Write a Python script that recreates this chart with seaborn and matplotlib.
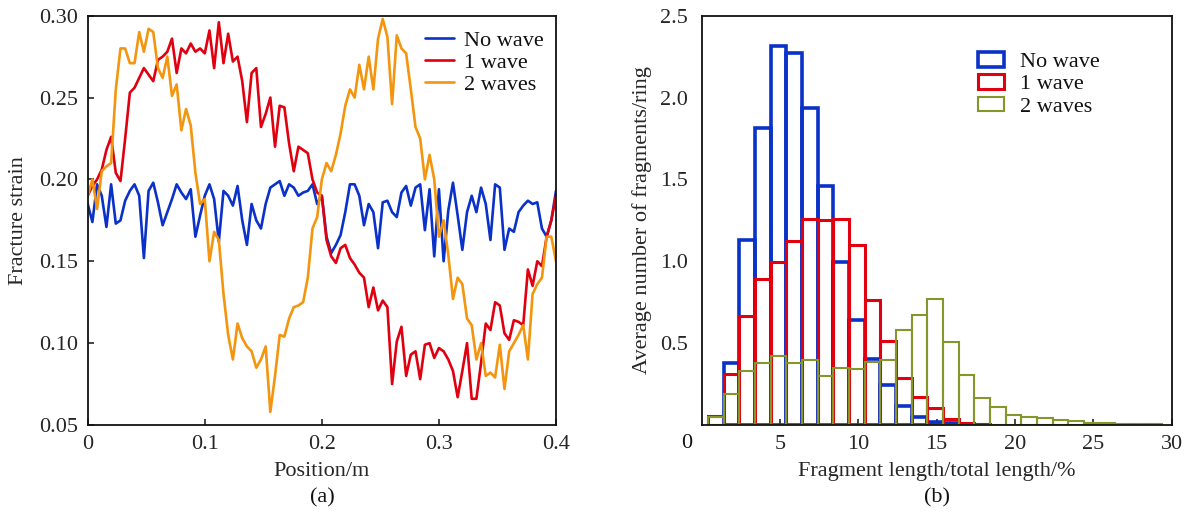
import numpy as np
import pandas as pd
import matplotlib
matplotlib.use("Agg")
import matplotlib.pyplot as plt
import seaborn as sns
from matplotlib.patches import Patch

# ----------------- Data (a): fracture strain along the ring -----------------
position = np.linspace(0.0, 0.4, 101)

strain_no_wave = [
    0.185, 0.174, 0.197, 0.190, 0.171, 0.197, 0.173, 0.175, 0.187, 0.193,
    0.197, 0.190, 0.152, 0.193, 0.198, 0.186, 0.172, 0.180, 0.188, 0.197,
    0.192, 0.188, 0.194, 0.165, 0.178, 0.190, 0.197, 0.188, 0.162, 0.193,
    0.190, 0.184, 0.196, 0.175, 0.160, 0.185, 0.175, 0.170, 0.185, 0.195,
    0.197, 0.199, 0.190, 0.197, 0.195, 0.190, 0.192, 0.193, 0.197, 0.185,
    0.190, 0.165, 0.155, 0.160, 0.166, 0.180, 0.197, 0.197, 0.190, 0.172,
    0.185, 0.180, 0.158, 0.186, 0.187, 0.180, 0.177, 0.192, 0.196, 0.184,
    0.195, 0.197, 0.169, 0.194, 0.153, 0.194, 0.150, 0.181, 0.198, 0.178,
    0.157, 0.180, 0.190, 0.180, 0.195, 0.185, 0.163, 0.197, 0.195, 0.157,
    0.170, 0.168, 0.180, 0.184, 0.187, 0.185, 0.186, 0.170, 0.165, 0.175,
    0.193,
]

strain_1_wave = [
    0.190, 0.196, 0.200, 0.206, 0.218, 0.226, 0.204, 0.199, 0.225, 0.253,
    0.256, 0.262, 0.268, 0.264, 0.260, 0.273, 0.275, 0.278, 0.286, 0.265,
    0.280, 0.277, 0.283, 0.278, 0.280, 0.277, 0.291, 0.268, 0.296, 0.271,
    0.289, 0.272, 0.275, 0.260, 0.235, 0.265, 0.268, 0.232, 0.240, 0.250,
    0.220, 0.245, 0.244, 0.222, 0.205, 0.220, 0.218, 0.216, 0.200, 0.192,
    0.190, 0.163, 0.153, 0.149, 0.158, 0.160, 0.152, 0.148, 0.143, 0.140,
    0.122, 0.134, 0.120, 0.126, 0.122, 0.075, 0.101, 0.110, 0.080, 0.093,
    0.095, 0.078, 0.099, 0.100, 0.091, 0.097, 0.095, 0.090, 0.083, 0.067,
    0.083, 0.100, 0.066, 0.066, 0.088, 0.112, 0.108, 0.125, 0.123, 0.106,
    0.102, 0.114, 0.113, 0.111, 0.145, 0.135, 0.150, 0.147, 0.165, 0.175,
    0.190,
]

strain_2_waves = [
    0.190, 0.200, 0.182, 0.205, 0.208, 0.210, 0.255, 0.280, 0.280, 0.271,
    0.271, 0.290, 0.278, 0.292, 0.290, 0.268, 0.262, 0.275, 0.251, 0.258,
    0.230, 0.243, 0.233, 0.204, 0.185, 0.188, 0.150, 0.168, 0.163, 0.130,
    0.105, 0.090, 0.112, 0.103, 0.098, 0.095, 0.085, 0.090, 0.098, 0.058,
    0.080, 0.105, 0.104, 0.115, 0.122, 0.123, 0.125, 0.140, 0.170, 0.177,
    0.200, 0.210, 0.205, 0.215, 0.228, 0.245, 0.255, 0.250, 0.270, 0.255,
    0.275, 0.255, 0.286, 0.298, 0.287, 0.246, 0.288, 0.280, 0.277, 0.255,
    0.232, 0.225, 0.200, 0.215, 0.200, 0.165, 0.175, 0.154, 0.127, 0.140,
    0.136, 0.115, 0.111, 0.090, 0.100, 0.080, 0.082, 0.079, 0.099, 0.072,
    0.095, 0.100, 0.105, 0.111, 0.090, 0.130, 0.136, 0.140, 0.165, 0.165,
    0.150,
]

case_labels = ["No wave", "1 wave", "2 waves"]

# ----------------- Data (b): fragment length distribution -----------------
bin_edges = np.arange(0.4, 30.0, 1.0)   # 1 % wide bins

# (first bin index, bar heights)
count_no_wave = (1, [0.378, 1.133, 1.816, 2.316, 2.271, 1.939, 1.459, 0.996,
                     0.639, 0.404, 0.245, 0.118, 0.047, 0.016, 0.012])
count_1_wave = (0, [0.055, 0.312, 0.667, 0.892, 0.994, 1.122, 1.261, 1.255,
                    1.259, 1.102, 0.761, 0.516, 0.286, 0.170, 0.102, 0.035,
                    0.012, 0.008])
count_2_waves = (0, [0.050, 0.188, 0.327, 0.378, 0.422, 0.378, 0.394, 0.302,
                     0.347, 0.341, 0.382, 0.394, 0.582, 0.673, 0.771, 0.510,
                     0.306, 0.167, 0.112, 0.061, 0.047, 0.040, 0.031, 0.024,
                     0.014, 0.010, 0.005, 0.004, 0.004])

# ----------------- Style -----------------
line_colors = ["#0a32c8", "#e0000f", "#f3950f"]
bar_colors = ["#0a32c8", "#e0000f", "#86962a"]
bar_widths = [2.6, 2.2, 1.5]

sns.set_style("ticks")
plt.rcParams["font.family"] = ["Liberation Serif", "DejaVu Serif"]
plt.rcParams["font.size"] = 16
plt.rcParams["axes.linewidth"] = 1.3
plt.rcParams["text.color"] = "#111111"

fig = plt.figure(figsize=(11.87, 5.15), dpi=100)
W, H = 1187.0, 515.0
ax1 = fig.add_axes([87.7 / W, 1 - 425 / H, 468.3 / W, 409.3 / H])
ax2 = fig.add_axes([701.7 / W, 1 - 425 / H, 470.0 / W, 409.3 / H])

# ----------------- Panel (a) -----------------
df_a = pd.concat([
    pd.DataFrame({"Position": position, "Strain": vals, "Case": lab})
    for vals, lab in zip([strain_no_wave, strain_1_wave, strain_2_waves], case_labels)
])
sns.lineplot(data=df_a, x="Position", y="Strain", hue="Case", hue_order=case_labels,
             palette=line_colors, linewidth=1.9, ax=ax1)

ax1.set_xlim(0, 0.4)
ax1.set_ylim(0.05, 0.30)
ax1.set_xticks([0, 0.1, 0.2, 0.3, 0.4])
ax1.set_xticklabels(["0", "0.1", "0.2", "0.3", "0.4"])
ax1.set_yticks([0.05, 0.10, 0.15, 0.20, 0.25, 0.30])
ax1.set_yticklabels(["0.05", "0.10", "0.15", "0.20", "0.25", "0.30"])
ax1.set_xlabel("Position/m", labelpad=6)
ax1.set_ylabel("Fracture strain", labelpad=8)
ax1.tick_params(direction="in", length=4.5, width=1.2, pad=7, labelsize=16)

handles, labels = ax1.get_legend_handles_labels()
ax1.legend(handles, labels, loc="upper left", bbox_to_anchor=(0.72, 0.965),
           frameon=False, handlelength=1.3, handletextpad=0.45, labelspacing=0.08,
           borderpad=0, borderaxespad=0, fontsize=16)

# ----------------- Panel (b) -----------------
for (start, heights), c, lw in zip([count_no_wave, count_1_wave, count_2_waves],
                                   bar_colors, bar_widths):
    n = len(heights)
    lo, hi = bin_edges[start], bin_edges[start + n]
    df_b = pd.DataFrame({"center": bin_edges[start:start + n] + 0.5, "height": heights})
    sns.histplot(data=df_b, x="center", weights="height", binwidth=1.0,
                 binrange=(lo, hi), element="bars", fill=False, color=c,
                 linewidth=lw, ax=ax2)

ax2.set_xlim(0, 30)
ax2.set_ylim(0, 2.5)
ax2.set_xticks([5, 10, 15, 20, 25, 30])
ax2.set_xticklabels(["5", "10", "15", "20", "25", "30"])
ax2.set_yticks([0.5, 1.0, 1.5, 2.0, 2.5])
ax2.set_yticklabels(["0.5", "1.0", "1.5", "2.0", "2.5"])
ax2.set_xlabel("Fragment length/total length/%", labelpad=6)
ax2.set_ylabel("Average number of fragments/ring", labelpad=6)
ax2.tick_params(axis="x", direction="in", length=4.5, width=1.2, pad=7, labelsize=16)
ax2.tick_params(axis="y", direction="in", length=0, pad=10, labelsize=16)
ax2.text(-0.021, -0.045, "0", transform=ax2.transAxes, ha="right", va="center", fontsize=16)

legend_handles = [Patch(facecolor="none", edgecolor=c, linewidth=lw)
                  for c, lw in zip(bar_colors, bar_widths)]
ax2.legend(legend_handles, case_labels, loc="upper left", bbox_to_anchor=(0.588, 0.912),
           frameon=False, handlelength=1.15, handleheight=0.65, handletextpad=0.75,
           labelspacing=0.1, borderpad=0, borderaxespad=0, fontsize=16)

for ax in (ax1, ax2):
    for s in ax.spines.values():
        s.set_linewidth(1.3)
        s.set_color("#111111")

fig.text(322 / W, 1 - 498 / H, "(a)", ha="center", va="center", fontsize=16)
fig.text(937 / W, 1 - 498 / H, "(b)", ha="center", va="center", fontsize=16)

fig.savefig("out.png", dpi=100)
